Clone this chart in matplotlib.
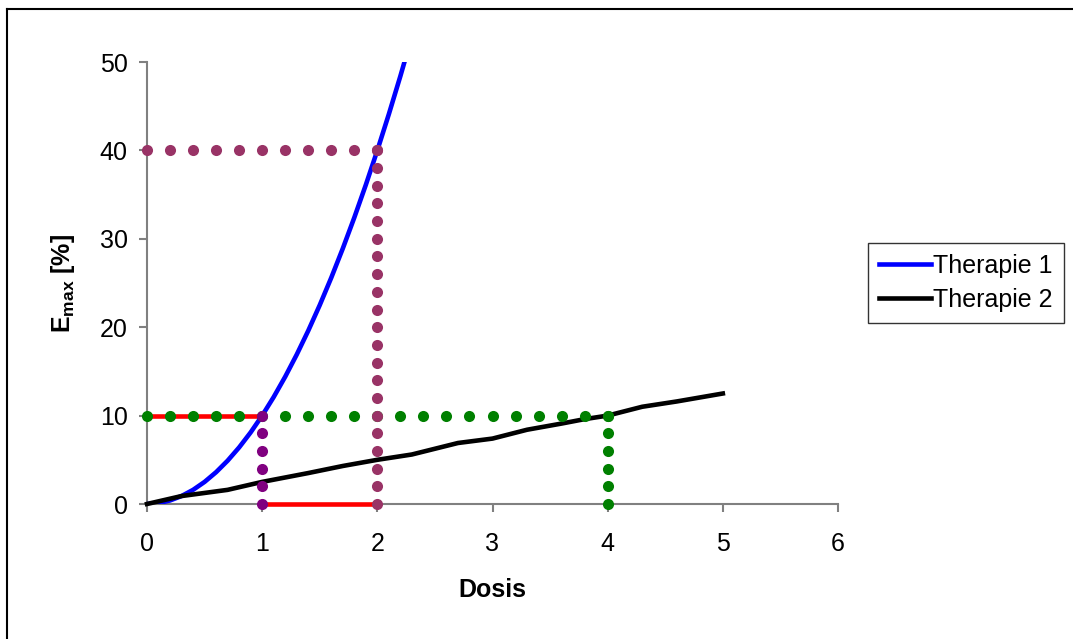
import matplotlib
matplotlib.use('Agg')
import matplotlib.pyplot as plt
from matplotlib.lines import Line2D

plt.rcParams['font.family'] = ['Liberation Sans', 'DejaVu Sans']
plt.rcParams['mathtext.fontset'] = 'custom'
plt.rcParams['mathtext.rm'] = 'Liberation Sans'
plt.rcParams['mathtext.bf'] = 'Liberation Sans:bold'

# Therapie 1 (blue)
t1_x = [0, 0.1, 0.2, 0.3, 0.4, 0.5, 0.6, 0.7, 0.8, 0.9, 1.0, 1.1, 1.2, 1.3, 1.4, 1.5,
        1.6, 1.7, 1.8, 1.9, 2.0, 2.1, 2.2, 2.3, 2.4]
t1_y = [0, 0.1, 0.4, 0.9, 1.6, 2.5, 3.6, 4.9, 6.4, 8.1, 10.0, 12.1, 14.4, 16.9, 19.6, 22.5,
        25.6, 28.9, 32.4, 36.1, 40.0, 44.1, 48.4, 52.9, 57.6]

# Therapie 2 (black)
t2_x = [0, 0.3, 0.7, 1.0, 1.4, 1.7, 2.0, 2.3, 2.7, 3.0, 3.3, 3.6, 3.8, 4.0, 4.3, 4.6, 5.0]
t2_y = [0, 0.9, 1.6, 2.5, 3.5, 4.3, 5.0, 5.6, 6.9, 7.4, 8.4, 9.1, 9.6, 10.0, 11.0, 11.6, 12.5]

# red guide lines
red_a_x = [0, 1]
red_a_y = [10, 10]
red_b_x = [1, 2]
red_b_y = [0, 0]

# dotted guides (dots at data points)
green_h_x = [0, 0.2, 0.4, 0.6, 0.8, 1.0, 1.2, 1.4, 1.6, 1.8, 2.0,
             2.2, 2.4, 2.6, 2.8, 3.0, 3.2, 3.4, 3.6, 3.8, 4.0]
green_h_y = [10] * len(green_h_x)
green_v_y = [0, 2, 4, 6, 8, 10]
green_v_x = [4] * len(green_v_y)

purple_v_y = [0, 2, 4, 6, 8, 10]
purple_v_x = [1] * len(purple_v_y)

mauve_h_x = [0, 0.2, 0.4, 0.6, 0.8, 1.0, 1.2, 1.4, 1.6, 1.8, 2.0]
mauve_h_y = [40] * len(mauve_h_x)
mauve_v_y = [0, 2, 4, 6, 8, 10, 12, 14, 16, 18, 20,
             22, 24, 26, 28, 30, 32, 34, 36, 38, 40]
mauve_v_x = [2] * len(mauve_v_y)

x_ticks = [0, 1, 2, 3, 4, 5, 6]
y_ticks = [0, 10, 20, 30, 40, 50]

fig = plt.figure(figsize=(10.73, 6.39), dpi=100)
ax = fig.add_axes([147 / 1073, 1 - 504 / 639, 691 / 1073, 442 / 639])

ax.plot(red_a_x, red_a_y, color='#FF0000', lw=3.3, solid_capstyle='butt', zorder=2.6, clip_on=False)
ax.plot(red_b_x, red_b_y, color='#FF0000', lw=3.3, solid_capstyle='butt', zorder=2.6, clip_on=False)

l1, = ax.plot(t1_x, t1_y, color='#0000FF', lw=3.3, label='Therapie 1', zorder=3)
l2, = ax.plot(t2_x, t2_y, color='#000000', lw=3.3, label='Therapie 2', zorder=3, clip_on=False)

dot = dict(ls='none', marker='o', ms=8, mew=0, zorder=4, clip_on=False)
ax.plot(green_h_x, green_h_y, color='#008000', **dot)
ax.plot(green_v_x, green_v_y, color='#008000', **dot)
ax.plot(mauve_h_x, mauve_h_y, color='#993366', **dot)
ax.plot(mauve_v_x, mauve_v_y, color='#993366', **dot)
ax.plot(purple_v_x, purple_v_y, color='#800080', **dot)

ax.set_xlim(0, 6)
ax.set_ylim(0, 50)
ax.set_xticks(x_ticks)
ax.set_yticks(y_ticks)
ax.tick_params(labelsize=18, colors='#808080', labelcolor='black', length=6, width=1.5, direction='out')
ax.tick_params(axis='x', pad=14)
ax.tick_params(axis='y', pad=8)
for s in ['top', 'right']:
    ax.spines[s].set_visible(False)
for s in ['left', 'bottom']:
    ax.spines[s].set_color('#808080')
    ax.spines[s].set_linewidth(1.5)

ax.set_xlabel('Dosis', fontsize=18, fontweight='bold', labelpad=16)
ax.set_ylabel(r'$\mathbf{E_{max}}$ [%]', fontsize=18, fontweight='bold', labelpad=16)

leg = fig.legend(handles=[l1, l2], loc='center left',
                 bbox_to_anchor=(868 / 1073, 1 - 283 / 639),
                 fontsize=18, frameon=True, fancybox=False,
                 handlelength=2.05, handletextpad=0.1, borderpad=0.45,
                 borderaxespad=0, labelspacing=0.4)
leg.get_frame().set_edgecolor('black')
leg.get_frame().set_linewidth(1.0)

# outer chart border (top and left visible)
fig.add_artist(Line2D([7 / 1073, 1.0], [1 - 9 / 639, 1 - 9 / 639], color='black', lw=1.5, transform=fig.transFigure))
fig.add_artist(Line2D([7 / 1073, 7 / 1073], [0, 1 - 9 / 639], color='black', lw=1.5, transform=fig.transFigure))

fig.savefig('out.png', dpi=100)
